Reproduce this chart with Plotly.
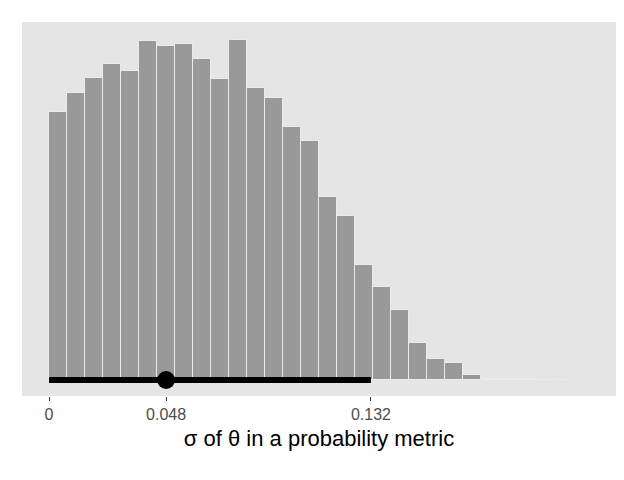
import plotly.graph_objects as go

# histogram counts, bins start at 0
bin_width = 0.00738
counts = [268, 287, 302, 316, 309, 339, 334, 336, 321, 301, 340, 292, 282, 253,
          239, 183, 164, 115, 93, 70, 37, 21, 17, 5, 1, 1, 1.5, 0.5, 0.3]
centers = [bin_width * (i + 0.5) for i in range(len(counts))]

# point interval
interval_low, interval_mode, interval_high = 0.0, 0.048, 0.132
tick_vals = [0, 0.048, 0.132]
tick_text = ["0", "0.048", "0.132"]

fig = go.Figure()
fig.add_trace(go.Bar(x=centers, y=counts, width=bin_width,
                     marker=dict(color="#999999", line=dict(color="#ebebeb", width=1))))
fig.add_trace(go.Scatter(x=[interval_low, interval_high], y=[0, 0], mode="lines",
                         line=dict(color="black", width=6)))
fig.add_trace(go.Scatter(x=[interval_mode], y=[0], mode="markers",
                         marker=dict(color="black", size=18)))

fig.update_layout(
    width=624, height=480, showlegend=False, bargap=0,
    paper_bgcolor="white", plot_bgcolor="#e5e5e5",
    margin=dict(l=14, r=16, t=14, b=92),
    font=dict(family="Liberation Sans, Arial", color="#4d4d4d"),
    xaxis=dict(range=[-0.0111, 0.2325], tickvals=tick_vals, ticktext=tick_text,
               showgrid=False, zeroline=False, ticks="outside", ticklen=4,
               tickcolor="#333333", tickfont=dict(size=16),
               title=dict(text="σ of θ in a probability metric",
                          font=dict(size=22, color="black"), standoff=8)),
    yaxis=dict(range=[-16, 358], showgrid=False, zeroline=False,
               showticklabels=False, ticks=""),
)

fig.write_html("out.html")
